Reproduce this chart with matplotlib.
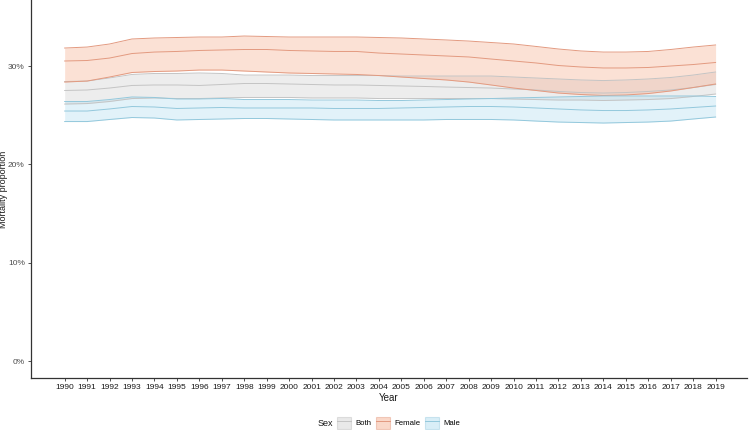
import numpy as np
import matplotlib
matplotlib.use('Agg')
import matplotlib.pyplot as plt
from matplotlib.patches import Patch
from matplotlib.lines import Line2D

plt.rcParams['font.family'] = ['Liberation Sans', 'DejaVu Sans']

years = list(range(1990, 2020))

# mortality proportion (%) - estimate, upper and lower bounds per sex
female_up = [31.84, 31.94, 32.25, 32.76, 32.86, 32.91, 32.96, 32.96, 33.06, 33.01,
             32.96, 32.96, 32.96, 32.96, 32.91, 32.86, 32.76, 32.66, 32.55, 32.40,
             32.25, 32.00, 31.74, 31.54, 31.43, 31.43, 31.49, 31.69, 31.94, 32.15]
female_mid = [30.52, 30.57, 30.82, 31.28, 31.43, 31.49, 31.59, 31.64, 31.69, 31.69,
              31.59, 31.54, 31.49, 31.49, 31.33, 31.23, 31.13, 31.03, 30.93, 30.72,
              30.52, 30.32, 30.06, 29.91, 29.81, 29.81, 29.86, 30.01, 30.16, 30.37]
female_lo = [28.38, 28.48, 28.89, 29.35, 29.45, 29.50, 29.60, 29.60, 29.50, 29.40,
             29.30, 29.25, 29.20, 29.15, 29.04, 28.89, 28.74, 28.59, 28.38, 28.08,
             27.77, 27.52, 27.26, 27.11, 27.01, 27.06, 27.21, 27.47, 27.82, 28.18]

both_up = [28.43, 28.48, 28.79, 29.15, 29.25, 29.25, 29.30, 29.25, 29.09, 29.09,
           29.09, 29.04, 29.04, 29.04, 29.04, 28.99, 28.99, 28.99, 28.99, 28.99,
           28.89, 28.79, 28.69, 28.59, 28.53, 28.59, 28.69, 28.84, 29.09, 29.40]
both_mid = [27.52, 27.57, 27.77, 28.03, 28.08, 28.08, 28.03, 28.13, 28.23, 28.23,
            28.18, 28.13, 28.08, 28.08, 28.03, 27.98, 27.93, 27.87, 27.82, 27.77,
            27.67, 27.57, 27.42, 27.31, 27.26, 27.31, 27.42, 27.57, 27.82, 28.13]
both_lo = [26.14, 26.19, 26.40, 26.70, 26.76, 26.70, 26.70, 26.76, 26.81, 26.81,
           26.81, 26.76, 26.76, 26.76, 26.70, 26.70, 26.70, 26.70, 26.70, 26.70,
           26.65, 26.60, 26.55, 26.55, 26.50, 26.55, 26.60, 26.70, 26.91, 27.16]

male_up = [26.40, 26.40, 26.60, 26.86, 26.81, 26.65, 26.65, 26.70, 26.60, 26.60,
           26.60, 26.55, 26.55, 26.55, 26.50, 26.50, 26.55, 26.60, 26.65, 26.70,
           26.76, 26.81, 26.86, 26.91, 26.96, 26.96, 26.96, 26.96, 26.96, 26.91]
male_mid = [25.43, 25.43, 25.64, 25.89, 25.84, 25.69, 25.74, 25.79, 25.74, 25.74,
            25.74, 25.74, 25.69, 25.69, 25.69, 25.74, 25.79, 25.84, 25.89, 25.89,
            25.84, 25.74, 25.64, 25.54, 25.48, 25.48, 25.54, 25.64, 25.79, 25.94]
male_lo = [24.36, 24.36, 24.57, 24.77, 24.72, 24.52, 24.57, 24.62, 24.67, 24.67,
           24.62, 24.57, 24.52, 24.52, 24.52, 24.52, 24.52, 24.57, 24.57, 24.57,
           24.52, 24.41, 24.31, 24.26, 24.21, 24.26, 24.31, 24.41, 24.62, 24.82]

sexes = ['Both', 'Female', 'Male']
fills = {'Both': ('#d4d4d4', 0.40), 'Female': ('#f6a989', 0.35), 'Male': ('#a6d8ee', 0.32)}
edges = {'Both': '#c4c4c4', 'Female': '#e39a80', 'Male': '#93c8dc'}
series = {
    'Both': (both_lo, both_mid, both_up),
    'Female': (female_lo, female_mid, female_up),
    'Male': (male_lo, male_mid, male_up),
}

fig = plt.figure(figsize=(7.5, 4.3), dpi=100)
ax = fig.add_axes([0.0413, 0.1209, 0.9547, 0.8791])

for s in sexes:
    lo, mid, up = series[s]
    col, a = fills[s]
    ax.fill_between(years, lo, up, color=col, alpha=a, linewidth=0)
for s in sexes:
    lo, mid, up = series[s]
    for v in (lo, mid, up):
        ax.plot(years, v, color=edges[s], linewidth=0.7)

ax.set_xlim(1988.5, 2020.4)
ax.set_ylim(-1.73, 36.725)
ax.set_xticks(years)
ax.set_xticklabels([str(y) for y in years], fontsize=6, color='#1a1a1a')
ax.set_yticks([0, 10, 20, 30])
ax.set_yticklabels(['0%', '10%', '20%', '30%'], fontsize=6, color='#4d4d4d')
ax.tick_params(axis='both', length=2.5, width=0.6, color='#333333', pad=2)

for side in ['top', 'right']:
    ax.spines[side].set_visible(False)
for side in ['left', 'bottom']:
    ax.spines[side].set_color('#333333')
    ax.spines[side].set_linewidth(0.9)

ax.set_xlabel('Year', fontsize=7, color='#1a1a1a', labelpad=1)
ax.set_ylabel('Mortality proportion', fontsize=6.5, color='#1a1a1a')
ax.yaxis.set_label_coords(-0.0325, 0.5)

handles = []
for s in sexes:
    col, a = fills[s]
    handles.append((Patch(facecolor=col, alpha=a + 0.1, edgecolor=edges[s], linewidth=0.8),
                    Line2D([], [], color=edges[s], linewidth=0.7)))
fig.text(318 / 750, 1 - 423 / 430, 'Sex', fontsize=6.5, color='#1a1a1a', va='center', ha='left')
fig.legend(handles, sexes, loc='center left', bbox_to_anchor=(337 / 750, 1 - 423 / 430),
           ncol=3, frameon=False, fontsize=5.6, handlelength=1.85, handleheight=1.85,
           handletextpad=0.5, columnspacing=0.6, borderaxespad=0, borderpad=0)

fig.savefig('out.png', dpi=100)
